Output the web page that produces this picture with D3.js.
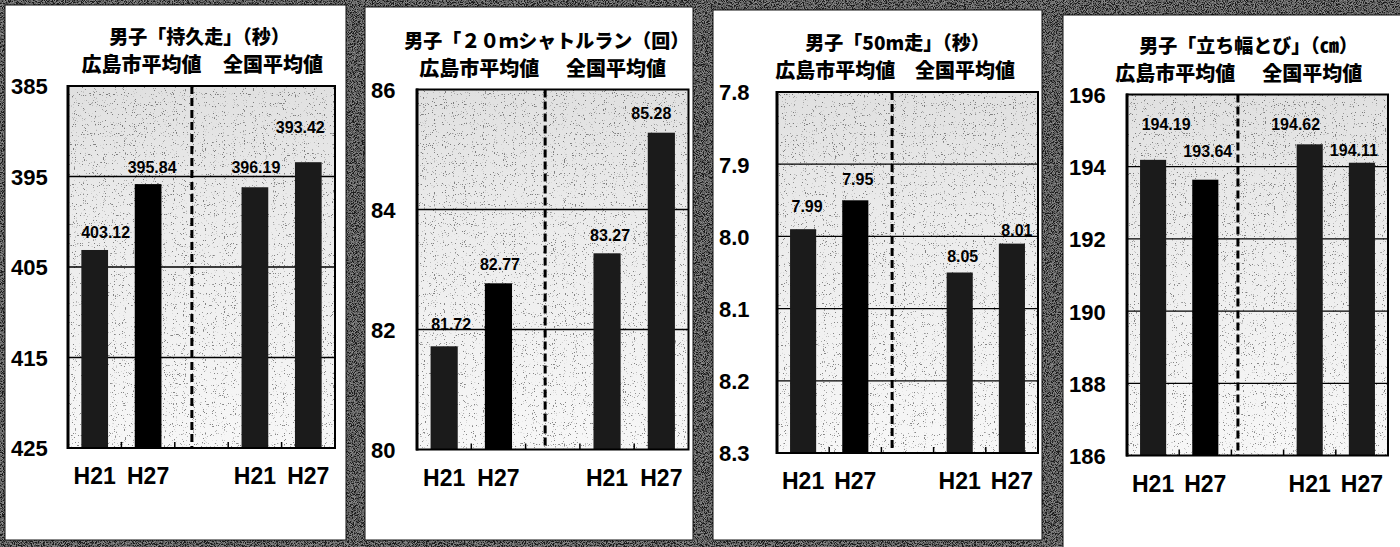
<!DOCTYPE html>
<html>
<head>
<meta charset="utf-8">
<script src="https://cdn.jsdelivr.net/npm/d3@7/dist/d3.min.js"></script>
<style>
  html, body { margin: 0; padding: 0; background: #3e3e3e; }
  svg { display: block; }
  .num { font-family: "Liberation Sans", Arial, sans-serif; font-weight: bold; fill: #000; }
  .jp  { font-family: "Noto Sans CJK JP", sans-serif; font-weight: 900; fill: #000; }
</style>
</head>
<body>
<svg id="chart" width="1400" height="547"></svg>
<script>
// ---- data -------------------------------------------------------------
const groups = ["広島市平均値", "全国平均値"];
const years = ["H21", "H27"];
const categories = ["広島市H21", "広島市H27", "gap", "全国H21", "全国H27"];

const titles = [
  "男子「持久走」（秒）",
  "男子「２０ｍシャトルラン（回）",
  "男子「50m走」（秒）",
  "男子「立ち幅とび」（㎝）"
];

// values in category order: 広島市 H21, 広島市 H27, 全国 H21, 全国 H27
const enduranceRun = [403.12, 395.84, 396.19, 393.42];
const shuttleRun   = [81.72, 82.77, 83.27, 85.28];
const dash50m      = [7.99, 7.95, 8.05, 8.01];
const standingJump = [194.19, 193.64, 194.62, 194.11];

// axis extents (first = bar base at the bottom, second = top of the plot)
const enduranceDomain = [425, 385];
const shuttleDomain   = [80, 86];
const dashDomain      = [8.3, 7.8];
const jumpDomain      = [186, 196];

const enduranceTicks = [385, 395, 405, 415, 425];
const shuttleTicks   = [80, 82, 84, 86];
const dashTicks      = [7.8, 7.9, 8.0, 8.1, 8.2, 8.3];
const jumpTicks      = [186, 188, 190, 192, 194, 196];

// ---- panel setup -----------------------------------------------------
const panels = [
  { title: titles[0], values: enduranceRun, domain: enduranceDomain, ticks: enduranceTicks, tickFmt: d3.format("d") },
  { title: titles[1], values: shuttleRun,   domain: shuttleDomain,   ticks: shuttleTicks,   tickFmt: d3.format("d") },
  { title: titles[2], values: dash50m,      domain: dashDomain,      ticks: dashTicks,      tickFmt: d3.format(".1f") },
  { title: titles[3], values: standingJump, domain: jumpDomain,      ticks: jumpTicks,      tickFmt: d3.format("d") }
];

// card / plot boxes, title offset, subtitle anchors, divider position, value-label nudges
const layout = [
  { card: [5, 5, 341, 535],    plot: [68, 86, 267, 362],    titleDx: -2,  sub: [0.275, 0.768], divider: 0.464,
    nudge: [[11, -18], [4, -17], [1, -20], [-8, -35]] },
  { card: [365, 7, 328, 533],  plot: [417, 89.5, 271.5, 360], titleDx: -6, sub: [0.229, 0.733], divider: 0.472,
    nudge: [[7, -22], [1.5, -19], [3, -18], [-10, -20]] },
  { card: [713, 10, 329, 530], plot: [777, 92, 261, 361],   titleDx: -10, sub: [0.223, 0.720], divider: 0.441,
    nudge: [[4, -23], [2.5, -21], [3, -17], [5, -14]] },
  { card: [1063, 15, 345, 540], plot: [1127, 94.5, 261, 361], titleDx: -9, sub: [0.185, 0.710], divider: 0.425,
    nudge: [[13, -36], [2.5, -29], [-14, -20], [-8, -13]] }
];

const barFill = ["#1b1b1b", "#000000", "#1b1b1b", "#1b1b1b"];
const barCats = categories.filter(c => c !== "gap");

// ---- drawing ---------------------------------------------------------
const svg = d3.select("#chart");
const defs = svg.append("defs");

// printed halftone of the plot area: darker at the top, lighter towards the base
const grad = defs.append("linearGradient").attr("id", "plotShade")
  .attr("x1", 0).attr("y1", 0).attr("x2", 0).attr("y2", 1);
grad.append("stop").attr("offset", 0).attr("stop-color", "#e0e0e0");
grad.append("stop").attr("offset", 0.35).attr("stop-color", "#ebebeb");
grad.append("stop").attr("offset", 1).attr("stop-color", "#f7f7f7");

const stipple = defs.append("filter").attr("id", "stipple")
  .attr("x", 0).attr("y", 0).attr("width", "100%").attr("height", "100%");
stipple.append("feTurbulence").attr("type", "fractalNoise")
  .attr("baseFrequency", 0.9).attr("numOctaves", 1).attr("seed", 4);
stipple.append("feColorMatrix").attr("type", "matrix")
  .attr("values", "0 0 0 0 0  0 0 0 0 0  0 0 0 0 0  -14 0 0 0 5.0");

const grain = defs.append("filter").attr("id", "grain")
  .attr("x", 0).attr("y", 0).attr("width", "100%").attr("height", "100%");
grain.append("feTurbulence").attr("type", "fractalNoise")
  .attr("baseFrequency", 1.1).attr("numOctaves", 2).attr("seed", 9);
grain.append("feColorMatrix").attr("type", "matrix")
  .attr("values", "3 0 0 0 -1.2  3 0 0 0 -1.2  3 0 0 0 -1.2  0 0 0 0 1");

// mottled frame between the cards
svg.append("rect").attr("width", 1400).attr("height", 547).attr("fill", "#333");
svg.append("rect").attr("width", 1400).attr("height", 547)
  .attr("filter", "url(#grain)").attr("opacity", 0.45);

panels.forEach((p, i) => {
  const L = layout[i];
  const [cx, cy, cw, ch] = L.card;
  const [px, py, pw, ph] = L.plot;
  const g = svg.append("g");

  g.append("rect").attr("x", cx).attr("y", cy).attr("width", cw).attr("height", ch)
    .attr("fill", "#fff").attr("stroke", "#111").attr("stroke-width", 1);

  const x = d3.scaleBand().domain(categories).range([px, px + pw]).padding(0);
  const y = d3.scaleLinear().domain(p.domain).range([py + ph, py]);
  const bw = x.bandwidth();

  // plot background
  g.append("rect").attr("x", px).attr("y", py).attr("width", pw).attr("height", ph)
    .attr("fill", "url(#plotShade)");
  g.append("rect").attr("x", px).attr("y", py).attr("width", pw).attr("height", ph)
    .attr("filter", "url(#stipple)").attr("opacity", 0.45);

  // gridlines
  g.append("g").selectAll("line")
    .data(p.ticks.filter(t => t !== p.domain[0] && t !== p.domain[1]))
    .join("line")
    .attr("x1", px).attr("x2", px + pw)
    .attr("y1", d => y(d)).attr("y2", d => y(d))
    .attr("stroke", "#000").attr("stroke-width", 1.3);

  // group divider
  const dx = px + pw * L.divider;
  g.append("line").attr("x1", dx).attr("x2", dx).attr("y1", py).attr("y2", py + ph)
    .attr("stroke", "#000").attr("stroke-width", 3).attr("stroke-dasharray", "8,4");

  // bars
  g.append("g").selectAll("rect")
    .data(p.values.map((v, k) => ({ v, cat: barCats[k], k })))
    .join("rect")
    .attr("x", d => x(d.cat) + bw * 0.25)
    .attr("width", bw * 0.5)
    .attr("y", d => y(d.v))
    .attr("height", d => y(p.domain[0]) - y(d.v))
    .attr("fill", d => barFill[d.k]);

  // frame and axes
  g.append("rect").attr("x", px).attr("y", py).attr("width", pw).attr("height", ph)
    .attr("fill", "none").attr("stroke", "#000").attr("stroke-width", 2);
  g.append("line").attr("x1", px).attr("x2", px).attr("y1", py - 1).attr("y2", py + ph + 1)
    .attr("stroke", "#000").attr("stroke-width", 3);
  g.append("g").selectAll("line")
    .data(categories.slice(1))
    .join("line")
    .attr("x1", d => x(d)).attr("x2", d => x(d))
    .attr("y1", py + ph).attr("y2", py + ph - 6)
    .attr("stroke", "#000").attr("stroke-width", 1.5);

  // value axis labels
  const yAxis = g.append("g").attr("transform", `translate(${px},0)`)
    .call(d3.axisLeft(y).tickValues(p.ticks).tickFormat(p.tickFmt).tickSize(0));
  yAxis.select(".domain").remove();
  yAxis.selectAll("text")
    .attr("class", "num")
    .attr("x", cx + 6 - px)
    .attr("dy", "0.36em")
    .attr("text-anchor", "start")
    .style("font-size", "22px");

  // category labels
  const xAxis = g.append("g").attr("transform", `translate(0,${py + ph})`)
    .call(d3.axisBottom(x).tickValues(barCats).tickFormat(d => d.slice(-3)).tickSize(0));
  xAxis.select(".domain").remove();
  xAxis.selectAll("text")
    .attr("class", "num")
    .attr("y", 36).attr("dy", 0)
    .style("font-size", "23px");

  // value labels
  g.append("g").selectAll("text")
    .data(p.values.map((v, k) => ({ v, cat: barCats[k], k })))
    .join("text")
    .attr("class", "num")
    .attr("x", d => x(d.cat) + bw / 2 + L.nudge[d.k][0])
    .attr("y", d => y(d.v) + L.nudge[d.k][1] + 6)
    .attr("text-anchor", "middle")
    .style("font-size", "16px")
    .text(d => d.v.toFixed(2));

  // title and group headings
  g.append("text").attr("class", "jp")
    .attr("x", px + pw / 2 + L.titleDx).attr("y", py - 42)
    .attr("text-anchor", "middle").style("font-size", "19px")
    .text(p.title);
  g.append("g").selectAll("text").data(groups).join("text")
    .attr("class", "jp")
    .attr("x", (d, k) => px + pw * L.sub[k])
    .attr("y", py - 14)
    .attr("text-anchor", "middle").style("font-size", "20px")
    .text(d => d);
});
</script>
</body>
</html>
